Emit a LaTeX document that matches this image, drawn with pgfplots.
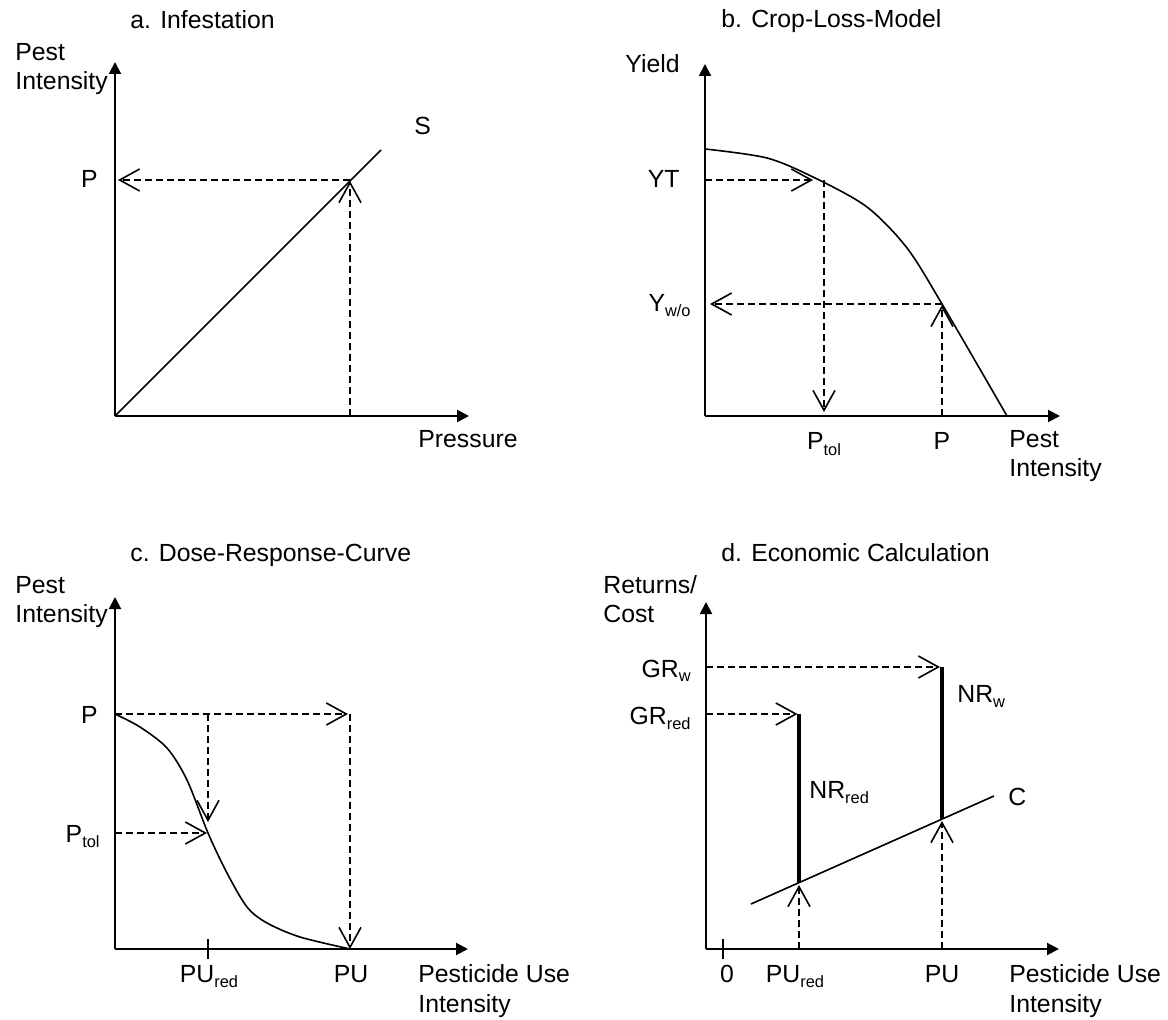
\documentclass[border=0pt]{standalone}
\usepackage{pgfplots}
\pgfplotsset{compat=1.18}
\usepackage{fontspec}
\setmainfont{Liberation Sans}
\usetikzlibrary{arrows.meta}

% subscript in text font
\newcommand{\sub}[1]{\raisebox{-2.5pt}{\fontsize{8.2}{8.2}\selectfont #1}}

\pgfplotsset{
  panel/.style={
    scale only axis, axis lines=left, clip=false,
    xtick=\empty, ytick=\empty,
    axis line style={line width=1pt, -{Triangle[length=6pt,width=6pt]}},
    anchor=south west,
  },
}
\tikzset{
  lbl/.style={inner sep=0pt},
  curve/.style={line width=0.8pt, black},
  thickbar/.style={line width=1.6pt, black},
  guide/.style={line width=0.8pt, black, dash pattern=on 3.5pt off 2pt,
    -{Straight Barb[length=10pt,width=11pt]}},
}

\begin{document}
\fontsize{12.4}{14.5}\selectfont
\begin{tikzpicture}[font=\fontsize{12.4}{14.5}\selectfont]
\useasboundingbox (0,0) rectangle (584pt,509.5pt);

% a. Infestation
\begin{axis}[panel, at={(57.5pt,301.5pt)}, width=177pt, height=177pt,
  xmin=115, xmax=469, ymin=603, ymax=957]
  \addplot[curve] coordinates {(115,603) (381,869)};
  \addplot[guide] coordinates {(350,839) (118,839)};
  \addplot[guide] coordinates {(350,603) (350,838)};
  \node[lbl, anchor=base west] at (axis cs:130,990) {a. Infestation};
  \node[lbl, anchor=base west] at (axis cs:15,958) {Pest};
  \node[lbl, anchor=base west] at (axis cs:15,929) {Intensity};
  \node[lbl, anchor=base east] at (axis cs:98,831) {P};
  \node[lbl, anchor=base west] at (axis cs:414,884) {S};
  \node[lbl, anchor=base west] at (axis cs:418,571) {Pressure};
\end{axis}

% b. Crop-Loss-Model
\begin{axis}[panel, at={(352.5pt,301.5pt)}, width=177.5pt, height=176pt,
  xmin=705, xmax=1060, ymin=603, ymax=955]
  \addplot[curve, smooth] coordinates {
    (705,870) (767,861) (815,841) (867,812) (907,771) (942,715) (1007,603)};
  \addplot[guide] coordinates {(705,839) (813,839)};
  \addplot[guide] coordinates {(824,839) (824,607)};
  \addplot[guide] coordinates {(942,715) (710,715)};
  \addplot[guide] coordinates {(942,603) (942,714)};
  \node[lbl, anchor=base west] at (axis cs:721,991) {b. Crop-Loss-Model};
  \node[lbl, anchor=base east] at (axis cs:680,946) {Yield};
  \node[lbl, anchor=base east] at (axis cs:680,831) {YT};
  \node[lbl, anchor=base east] at (axis cs:691,707) {Y\sub{w/o}};
  \node[lbl, anchor=base] at (axis cs:824,569) {P\sub{tol}};
  \node[lbl, anchor=base] at (axis cs:942,569) {P};
  \node[lbl, anchor=base west] at (axis cs:1009,571) {Pest};
  \node[lbl, anchor=base west] at (axis cs:1009,542) {Intensity};
\end{axis}

% c. Dose-Response-Curve
\begin{axis}[panel, at={(57.5pt,35pt)}, width=176.5pt, height=176pt,
  xmin=115, xmax=468, ymin=70, ymax=422,
  xtick={208}, xticklabels={}, major tick length=10pt, tick align=center,
  tick style={line width=1pt, black}]
  \addplot[curve, smooth] coordinates {
    (115,305) (140,292) (167,271) (187,239) (208,186) (227,146)
    (247,112) (267,96) (300,82) (350,70)};
  \addplot[guide] coordinates {(115,305) (348,305)};
  \addplot[guide] coordinates {(208,305) (208,197)};
  \addplot[guide] coordinates {(115,186) (207,186)};
  \addplot[guide] coordinates {(350,305) (350,70)};
  \node[lbl, anchor=base west] at (axis cs:130,457) {c. Dose-Response-Curve};
  \node[lbl, anchor=base west] at (axis cs:15,426) {Pest};
  \node[lbl, anchor=base west] at (axis cs:15,397) {Intensity};
  \node[lbl, anchor=base east] at (axis cs:98,296) {P};
  \node[lbl, anchor=base east] at (axis cs:100,177) {P\sub{tol}};
  \node[lbl, anchor=base] at (axis cs:209,37) {PU\sub{red}};
  \node[lbl, anchor=base] at (axis cs:351,37) {PU};
  \node[lbl, anchor=base west] at (axis cs:418,37) {Pesticide Use};
  \node[lbl, anchor=base west] at (axis cs:418,7) {Intensity};
\end{axis}

% d. Economic Calculation
\begin{axis}[panel, at={(353pt,35pt)}, width=176.5pt, height=173.5pt,
  xmin=706, xmax=1059, ymin=70, ymax=417,
  xtick={722.5}, xticklabels={}, major tick length=10pt, tick align=center,
  tick style={line width=1pt, black}]
  \addplot[curve] coordinates {(751,115) (994,223)};
  \addplot[thickbar] coordinates {(799,305) (799,136.3)};
  \addplot[thickbar] coordinates {(942,352) (942,200)};
  \addplot[guide] coordinates {(706,352) (940,352)};
  \addplot[guide] coordinates {(706,305) (797.5,305)};
  \addplot[guide] coordinates {(799,70) (799,134)};
  \addplot[guide] coordinates {(942,70) (942,198)};
  \node[lbl, anchor=base west] at (axis cs:721,457) {d. Economic Calculation};
  \node[lbl, anchor=base west] at (axis cs:603,426) {Returns/};
  \node[lbl, anchor=base west] at (axis cs:603,397) {Cost};
  \node[lbl, anchor=base east] at (axis cs:691,342) {GR\sub{w}};
  \node[lbl, anchor=base east] at (axis cs:691,295) {GR\sub{red}};
  \node[lbl, anchor=base west] at (axis cs:957,317) {NR\sub{w}};
  \node[lbl, anchor=base west] at (axis cs:809,221) {NR\sub{red}};
  \node[lbl, anchor=base west] at (axis cs:1008,214) {C};
  \node[lbl, anchor=base] at (axis cs:727,37) {0};
  \node[lbl, anchor=base] at (axis cs:795,37) {PU\sub{red}};
  \node[lbl, anchor=base] at (axis cs:942,37) {PU};
  \node[lbl, anchor=base west] at (axis cs:1009,37) {Pesticide Use};
  \node[lbl, anchor=base west] at (axis cs:1009,7) {Intensity};
\end{axis}
\end{tikzpicture}
\end{document}
